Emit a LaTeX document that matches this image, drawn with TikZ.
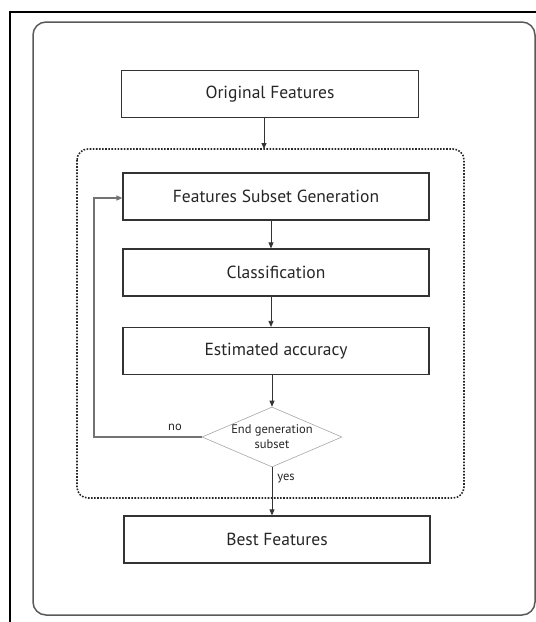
\documentclass[tikz,border=0pt]{standalone}
\usepackage{fontspec}
\setmainfont{PT Sans}
\usetikzlibrary{arrows.meta,shapes.geometric}
\begin{document}
\begin{tikzpicture}[x=1pt,y=-1pt,
  stepbox/.style={draw=black!80,line width=1.2pt,minimum width=#1,minimum height=47pt,
    inner sep=0pt,font=\fontsize{17.5}{20}\selectfont,text=black!85},
  stepbox/.default=306pt,
  flow/.style={draw=black!80,line width=0.8pt,-{Triangle[length=6pt,width=5pt]}},
  loopline/.style={draw=black!55,line width=1.4pt,-{Triangle[length=6pt,width=5pt]}},
  decision/.style={diamond,aspect=2.33,draw=black!35,line width=0.6pt,minimum width=140pt,
    minimum height=60pt,inner sep=0pt,align=center,font=\fontsize{12.5}{15}\selectfont,text=black!85},
  tag/.style={font=\fontsize{12.5}{15}\selectfont,text=black!85}
]
\useasboundingbox (0,0) rectangle (536,622);
% cropped outer frame
\draw[black,line width=1.4pt] (10,622) -- (10,12) -- (536,12);
% panel
\draw[black!65,line width=1.5pt,rounded corners=13pt] (33,22) rectangle (535,615);
% loop region
\draw[black!85,line width=1.6pt,dash pattern=on 1.6pt off 1.5pt,rounded corners=11pt]
  (77,149) rectangle (464,498);
% steps
\node[stepbox=297pt] (orig) at (270,94) {Original Features};
\node[stepbox] (gen) at (276,196.5) {Features Subset Generation};
\node[stepbox] (cls) at (276,272.5) {Classification};
\node[stepbox] (acc) at (276,351) {Estimated accuracy};
\node[decision] (end) at (272,437) {End generation\\subset};
\node[stepbox] (best) at (277,539.5) {Best Features};
\coordinate (top) at (264,149);
\coordinate (c1) at (94,437);
\coordinate (c2) at (94,198);
% connectors
\draw[flow] (orig.south -| top) -- (top);
\draw[flow] (gen.south -| 271,0) -- (cls.north -| 271,0);
\draw[flow] (cls.south -| 271,0) -- (acc.north -| 271,0);
\draw[flow] (acc.south -| end) -- (end.north);
\draw[flow] (end.south) -- (best.north -| end.south);
\draw[loopline] (end.west) -- (c1) -- (c2) -- (gen.west |- c2);
\node[tag] at (175,427) {no};
\node[tag] at (286,479) {yes};
\end{tikzpicture}
\end{document}
